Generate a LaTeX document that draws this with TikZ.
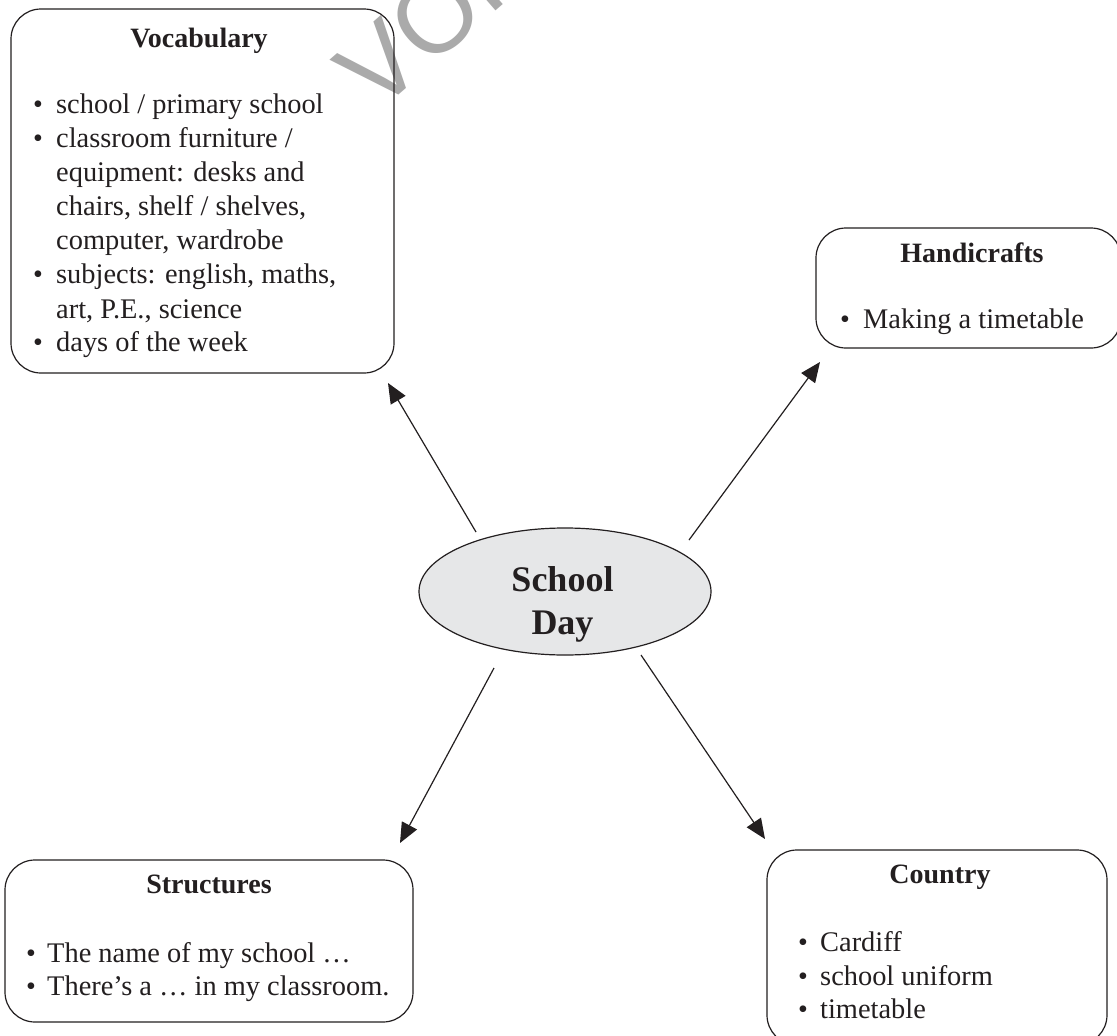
\documentclass[tikz,border=0pt]{standalone}
\usepackage{fontspec}
\setmainfont{Liberation Serif}
\newfontfamily\wmfont{Liberation Sans}
\usetikzlibrary{arrows.meta,shapes.geometric}
\definecolor{ink}{HTML}{231F20}
\definecolor{wmgray}{HTML}{AAAAAA}
\definecolor{ellfill}{HTML}{E6E7E8}
\tikzset{
  box/.style={draw=ink, line width=1.2pt, rounded corners=30pt, inner sep=0pt},
  ttl/.style={anchor=base, inner sep=0pt, text=ink, font=\bfseries\fontsize{28}{34}\selectfont},
  itm/.style={anchor=base west, inner sep=0pt, text=ink, font=\fontsize{28.4}{34}\selectfont},
  bul/.style={anchor=base, inner sep=0pt, text=ink, font=\fontsize{28}{34}\selectfont},
  arr/.style={draw=ink, line width=1.2pt, -{Triangle[length=20pt,width=17pt]}},
  wm/.style={rotate=41, anchor=base west, inner sep=0pt, text=wmgray, font=\wmfont\fontsize{104}{104}\selectfont}
}
\begin{document}
\begin{tikzpicture}[x=1pt,y=-1pt]
\useasboundingbox (0,0) rectangle (1117,1036);
\clip (0,0) rectangle (1117,1036);
\fill[white] (0,0) rectangle (1117,1036);
% watermark
\node[wm] (wmark) at (376,115) {VOR};
% boxes
\node[box, minimum width=383pt, minimum height=364pt] (voc) at (202.5,191) {};
\node[box, minimum width=305pt, minimum height=120pt] (hand) at (968.5,288) {};
\node[box, minimum width=408pt, minimum height=162pt] (str) at (209,941) {};
\node[box, minimum width=340pt, minimum height=195pt] (cty) at (937,947.5) {};
% centre
\node[draw=ink, line width=1.2pt, fill=ellfill, ellipse, minimum width=292pt, minimum height=127pt, inner sep=0pt] (ell) at (565,591.5) {};
\node[ttl, font=\bfseries\fontsize{36}{43}\selectfont] (ell1) at (562.5,591) {School};
\node[ttl, font=\bfseries\fontsize{36}{43}\selectfont] (ell2) at (562.5,634) {Day};
% Vocabulary
\node[ttl] (vt) at (199,47) {Vocabulary};
\node[bul] (vb1) at (38,113) {\textbullet};
\node[itm] (v1) at (56,113) {school / primary school};
\node[bul] (vb2) at (38,147) {\textbullet};
\node[itm] (v2) at (56,147) {classroom furniture /};
\node[itm] (v3) at (56,181) {equipment: desks and};
\node[itm] (v4) at (56,215) {chairs, shelf / shelves,};
\node[itm] (v5) at (56,249) {computer, wardrobe};
\node[bul] (vb3) at (38,283) {\textbullet};
\node[itm] (v6) at (56,283) {subjects: english, maths,};
\node[itm] (v7) at (56,318) {art, P.E., science};
\node[bul] (vb4) at (38,351) {\textbullet};
\node[itm] (v8) at (56,351) {days of the week};
% Handicrafts
\node[ttl] (ht) at (972,262) {Handicrafts};
\node[bul] (hb1) at (845,328) {\textbullet};
\node[itm] (h1) at (863,328) {Making a timetable};
% Structures
\node[ttl] (st) at (209,893) {Structures};
\node[bul] (sb1) at (31,962) {\textbullet};
\node[itm] (s1) at (47,962) {The name of my school \dots};
\node[bul] (sb2) at (31,995) {\textbullet};
\node[itm] (s2) at (47,995) {There’s a \dots{} in my classroom.};
% Country
\node[ttl] (ct) at (940,883) {Country};
\node[bul] (cb1) at (803,951) {\textbullet};
\node[itm] (c1) at (820,951) {Cardiff};
\node[bul] (cb2) at (803,985) {\textbullet};
\node[itm] (c2) at (820,985) {school uniform};
\node[bul] (cb3) at (803,1018) {\textbullet};
\node[itm] (c3) at (820,1018) {timetable};
% arrows
\coordinate (a1s) at (476,532); \coordinate (a1t) at (388,383);
\coordinate (a2s) at (689,540); \coordinate (a2t) at (820,362);
\coordinate (a3s) at (494,668); \coordinate (a3t) at (400,843);
\coordinate (a4s) at (641,655); \coordinate (a4t) at (765,839);
\draw[arr] (a1s) -- (a1t);
\draw[arr] (a2s) -- (a2t);
\draw[arr] (a3s) -- (a3t);
\draw[arr] (a4s) -- (a4t);
\end{tikzpicture}
\end{document}
